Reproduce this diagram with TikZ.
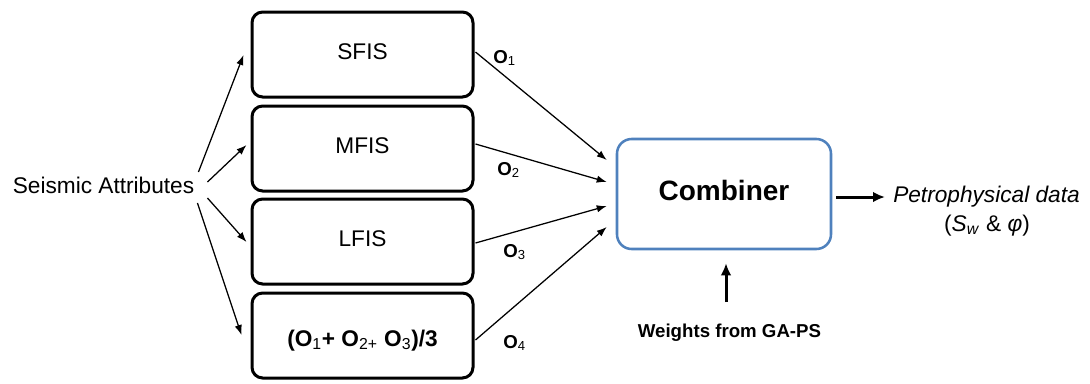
\documentclass[tikz,border=0pt]{standalone}
\usepackage{fontspec}
\setmainfont{Liberation Sans}
\usetikzlibrary{arrows.meta}
\definecolor{combblue}{RGB}{79,129,189}
\begin{document}
\begin{tikzpicture}[x=0.75pt,y=-0.75pt,
  fisbox/.style={draw=black,line width=2.25pt,rounded corners=8pt,
    minimum width=165.75pt,minimum height=63.75pt,inner sep=0pt,
    font=\fontsize{17}{20}\selectfont,text height=12.5pt,text depth=4.8pt},
  combbox/.style={draw=combblue,line width=1.9pt,rounded corners=11pt,
    minimum width=160.5pt,minimum height=82.5pt,inner sep=0pt,
    font=\bfseries\fontsize{21}{25}\selectfont,text height=15pt,text depth=6pt},
  plain/.style={inner sep=0pt},
  olabel/.style={inner sep=0pt,anchor=base west,font=\fontsize{14}{16}\selectfont},
  thin/.style={line width=0.95pt,-{Latex[length=7.5pt,width=5.5pt]}},
  thick/.style={line width=2.25pt,-{Latex[length=9pt,width=8pt]}}]
\useasboundingbox (0,0) rectangle (1090,383);

\node[plain,font=\fontsize{17}{20}\selectfont] (sa) at (103.5,185) {Seismic Attributes};

\node[fisbox] (s1) at (362.5,54.5) {SFIS};
\node[fisbox] (s2) at (362.5,148.5) {MFIS};
\node[fisbox] (s3) at (362.5,241.5) {LFIS};
\node[fisbox,text height=16pt,text depth=0pt] (s4) at (362.5,335.5)
  {\textbf{(O}\textsubscript{1}\textbf{+ O}\textsubscript{2+}\textbf{ O}\textsubscript{3}\textbf{)/3}};

\node[combbox] (comb) at (724,194) {Combiner};

\node[plain,anchor=base,font=\itshape\fontsize{17}{20}\selectfont] (pd) at (986.5,202) {Petrophysical data};
\node[plain,anchor=base,font=\fontsize{17}{20}\selectfont] (pd2) at (987,231)
  {(\textit{S}\textsubscript{\textit{w}} \& \textit{φ})};

\node[plain,anchor=base,font=\bfseries\fontsize{14}{17}\selectfont] (wg) at (729.5,337) {Weights from GA-PS};

\node[olabel] (o1) at (493,63) {\textbf{O}\textsubscript{1}};
\node[olabel] (o2) at (497,175) {\textbf{O}\textsubscript{2}};
\node[olabel] (o3) at (503,257) {\textbf{O}\textsubscript{3}};
\node[olabel] (o4) at (503,348) {\textbf{O}\textsubscript{4}};

% inputs
\draw[thin] ([shift={(4,-13)}]sa.east) -- ([shift={(-7,0.5)}]s1.west);
\draw[thin] ([shift={(13,-3)}]sa.east) -- ([shift={(-4,-3.5)}]s2.west);
\draw[thin] ([shift={(13,13)}]sa.east) -- ([shift={(-4,0.5)}]s3.west);
\draw[thin] ([shift={(3,18)}]sa.east) -- ([shift={(-9,-0.5)}]s4.west);

% outputs to combiner
\draw[thin] ([shift={(1,-2.5)}]s1.east) -- ([shift={(-9,-34)}]comb.west);
\draw[thin] ([shift={(1,-4.5)}]s2.east) -- ([shift={(-9,-12)}]comb.west);
\draw[thin] ([shift={(1,1.5)}]s3.east) -- ([shift={(-9,12)}]comb.west);
\draw[thin] ([shift={(1,4.5)}]s4.east) -- ([shift={(-9,33)}]comb.west);

% combiner output
\draw[thick] ([shift={(4,3)}]comb.east) -- ([shift={(-8,3)}]comb.east -| pd.west);
% weights
\draw[thick] ([shift={(-3.5,-21)}]wg.north) -- ([shift={(2,13)}]comb.south);
\end{tikzpicture}
\end{document}
